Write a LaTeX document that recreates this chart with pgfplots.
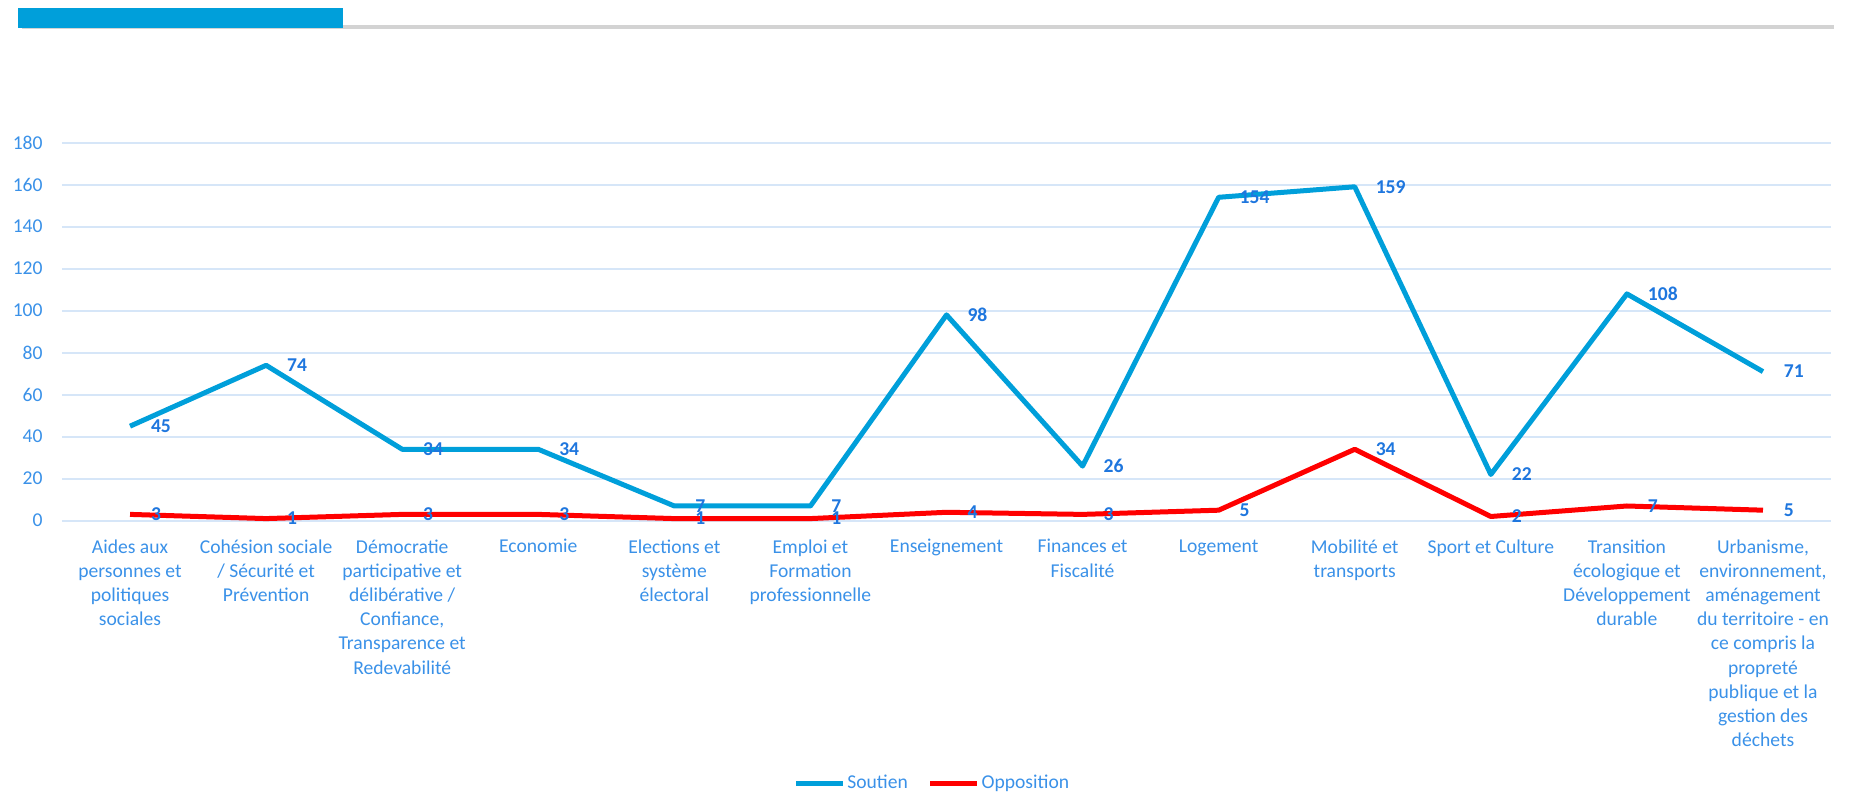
\documentclass[border=0pt]{standalone}
\usepackage{pgfplots}
\pgfplotsset{compat=1.18}
\usepackage{fontspec}
\setmainfont{Carlito}
\definecolor{lineblue}{RGB}{0,159,218}
\definecolor{linered}{RGB}{255,0,0}
\definecolor{ticktext}{RGB}{58,145,232}
\definecolor{labeltext}{RGB}{30,118,222}
\definecolor{gridc}{RGB}{214,230,248}
\definecolor{barblue}{RGB}{0,159,218}
\definecolor{graybar}{RGB}{211,211,211}
\begin{document}
\begin{tikzpicture}
\path[use as bounding box] (0,0) rectangle (927.5pt,397.5pt);
% header bars
\fill[graybar] (11pt,383pt) rectangle (917pt,385pt);
\fill[barblue] (9pt,383.5pt) rectangle (171.5pt,393.5pt);
\begin{axis}[
  at={(31pt,137.15pt)}, anchor=south west,
  scale only axis, width=884.5pt, height=189pt,
  xmin=-0.5, xmax=12.5, ymin=0, ymax=180,
  ytick={0,20,...,180},
  xtick={0,...,12},
  xticklabels={
    {Aides aux\\personnes et\\politiques\\sociales},
    {Cohésion sociale\\/ Sécurité et\\Prévention},
    {Démocratie\\participative et\\délibérative /\\Confiance,\\Transparence et\\Redevabilité},
    {Economie},
    {Elections et\\système\\électoral},
    {Emploi et\\Formation\\professionnelle},
    {Enseignement},
    {Finances et\\Fiscalité},
    {Logement},
    {Mobilité et\\transports},
    {Sport et Culture},
    {Transition\\écologique et\\Développement\\durable},
    {Urbanisme,\\environnement,\\aménagement\\du territoire - en\\ce compris la\\propreté\\publique et la\\gestion des\\déchets}},
  axis line style={draw=none},
  major tick length=0pt,
  ymajorgrids, grid style={gridc, line width=0.9pt},
  yticklabel style={font=\fontsize{9.8}{12}\selectfont, text=ticktext, inner sep=0pt, anchor=east, xshift=-9.5pt},
  xticklabel style={font=\fontsize{9.8}{12.1}\selectfont, text=ticktext, inner sep=0pt, anchor=north, align=center, yshift=-9.2pt},
  /pgf/number format/assume math mode=true,
  clip=false,
  nodes near coords,
  every node near coord/.style={font=\bfseries\fontsize{9.8}{12}\selectfont, text=labeltext, anchor=west, inner sep=0pt, xshift=9.25pt, yshift=0pt},
  legend style={at={(0.4915,-0.694)}, anchor=center, draw=none, fill=none, font=\fontsize{9.8}{12}\selectfont, text=ticktext, column sep=0pt, inner sep=0pt, nodes={inner sep=0pt},
    /tikz/every even column/.append style={column sep=10pt}},
  legend columns=2,
  legend image code/.code={\draw[#1, line width=2.5pt] (0pt,0pt) -- (23.5pt,0pt);},
  legend cell align=left,
]
\addplot[lineblue, line width=2.5pt, line join=round, mark=none] coordinates {
 (0,45) (1,74) (2,34) (3,34) (4,7) (5,7) (6,98) (7,26) (8,154) (9,159) (10,22) (11,108) (12,71)};
\addlegendentry{\hspace{0.8pt}Soutien}
\addplot[linered, line width=2.5pt, line join=round, mark=none] coordinates {
 (0,3) (1,1) (2,3) (3,3) (4,1) (5,1) (6,4) (7,3) (8,5) (9,34) (10,2) (11,7) (12,5)};
\addlegendentry{\hspace{0.8pt}Opposition}
\end{axis}
\end{tikzpicture}
\end{document}
